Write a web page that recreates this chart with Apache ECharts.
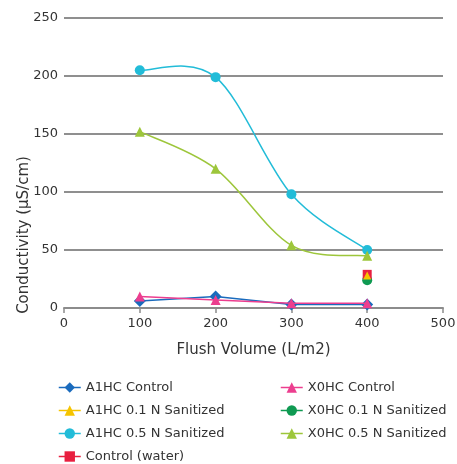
<!DOCTYPE html>
<html>
<head>
<meta charset="utf-8">
<script src="https://cdn.jsdelivr.net/npm/echarts@6/dist/echarts.min.js"></script>
<style>
  html, body { margin: 0; padding: 0; background: #fff; }
  #chart { width: 457px; height: 464px; }
</style>
</head>
<body>
<div id="chart"></div>
<script>
// Flush volume (L/m2) vs conductivity (µS/cm)
const flushVolume = [100, 200, 300, 400];

const a1hcControl   = [6, 10, 3, 3];
const x0hcControl   = [10, 7, 4, 4];
const a1hc01        = [null, null, null, 28];
const x0hc01        = [null, null, null, 24];
const a1hc05        = [205, 199, 98, 50];
const x0hc05        = [152, 120, 54, 45];
const controlWater  = [null, null, null, 29];

const yTicks = [0, 50, 100, 150, 200, 250];
const xTicks = [0, 100, 200, 300, 400, 500];

const pairs = vals => flushVolume.map((x, i) => [x, vals[i]]).filter(p => p[1] !== null);

const font = 'DejaVu Sans, Verdana, sans-serif';

const colors = {
  a1hcControl: '#1a6bbd',
  x0hcControl: '#ec3e8f',
  a1hc01: '#f5c400',
  x0hc01: '#0f9a52',
  a1hc05: '#22bcd8',
  x0hc05: '#9dc63b',
  water: '#e81f3f'
};

function lineSeries(name, vals, color, symbol, size, opts) {
  return Object.assign({
    name: name,
    type: 'line',
    data: pairs(vals),
    symbol: symbol,
    symbolSize: size,
    showSymbol: true,
    itemStyle: { color: color },
    lineStyle: { color: color, width: 1.5 },
    emphasis: { disabled: true },
    animation: false
  }, opts || {});
}

// Smoothed connector (Catmull-Rom through the data points, in pixel space)
function curveSeries(vals, color) {
  const pts = pairs(vals);
  return {
    type: 'custom',
    data: pts,
    z: 2,
    silent: true,
    animation: false,
    renderItem: function (params, api) {
      if (params.dataIndex !== 0) return null;
      const p = pts.map(d => api.coord(d));
      const at = i => p[Math.max(0, Math.min(p.length - 1, i))];
      let d = 'M' + p[0][0] + ' ' + p[0][1];
      for (let i = 0; i < p.length - 1; i++) {
        const p0 = at(i - 1), p1 = at(i), p2 = at(i + 1), p3 = at(i + 2);
        const c1x = p1[0] + (p2[0] - p0[0]) / 6, c1y = p1[1] + (p2[1] - p0[1]) / 6;
        const c2x = p2[0] - (p3[0] - p1[0]) / 6, c2y = p2[1] - (p3[1] - p1[1]) / 6;
        d += ' C' + c1x + ' ' + c1y + ' ' + c2x + ' ' + c2y + ' ' + p2[0] + ' ' + p2[1];
      }
      return {
        type: 'path',
        shape: { pathData: d },
        style: { fill: 'none', stroke: color, lineWidth: 1.5 }
      };
    }
  };
}

const hiddenLine = { color: 'transparent', width: 0, opacity: 0 };

const series = [
  lineSeries('A1HC Control', a1hcControl, colors.a1hcControl, 'diamond', 12, { z: 3 }),
  lineSeries('X0HC Control', x0hcControl, colors.x0hcControl, 'triangle', 10, { z: 4 }),
  lineSeries('A1HC 0.1 N Sanitized', a1hc01, colors.a1hc01, 'triangle', 8, { z: 6 }),
  lineSeries('X0HC 0.1 N Sanitized', x0hc01, colors.x0hc01, 'circle', 10, { z: 4 }),
  lineSeries('A1HC 0.5 N Sanitized', a1hc05, colors.a1hc05, 'circle', 10, { z: 3, lineStyle: hiddenLine }),
  lineSeries('X0HC 0.5 N Sanitized', x0hc05, colors.x0hc05, 'triangle', 10, { z: 3, lineStyle: hiddenLine }),
  lineSeries('Control (water)', controlWater, colors.water, 'rect', 9, { z: 5 }),
  curveSeries(a1hc05, colors.a1hc05),
  curveSeries(x0hc05, colors.x0hc05)
];

const legendBase = {
  orient: 'vertical',
  top: 381,
  height: 110,
  padding: 0,
  itemGap: 10,
  itemWidth: 22,
  itemHeight: 13,
  textStyle: { fontFamily: font, fontSize: 13, color: '#333' },
  selectedMode: false
};

const legendItem = (name, color) => ({ name: name, lineStyle: { color: color, width: 1.5, opacity: 1 } });

const option = {
  backgroundColor: '#fff',
  animation: false,
  grid: { left: 64, right: 14, top: 18, bottom: 156, outerBoundsMode: 'none', containLabel: false },
  xAxis: {
    type: 'value',
    min: xTicks[0],
    max: xTicks[xTicks.length - 1],
    interval: 100,
    name: 'Flush Volume (L/m2)',
    nameLocation: 'middle',
    nameGap: 35,
    nameMoveOverlap: false,
    nameTextStyle: { fontFamily: font, fontSize: 15, color: '#333' },
    axisLine: { show: true, onZero: false, lineStyle: { color: '#8c8c8c', width: 2 } },
    axisTick: { show: true, length: 5, lineStyle: { color: '#8c8c8c', width: 1.5 } },
    axisLabel: { fontFamily: font, fontSize: 13, color: '#333', margin: 9 },
    splitLine: { show: false }
  },
  yAxis: {
    type: 'value',
    min: yTicks[0],
    max: yTicks[yTicks.length - 1],
    interval: 50,
    name: 'Conductivity (µS/cm)',
    nameLocation: 'middle',
    nameGap: 32,
    nameMoveOverlap: false,
    nameTextStyle: { fontFamily: font, fontSize: 15, color: '#333', padding: [0, 144, 0, 0] },
    axisLine: { show: false },
    axisTick: { show: false },
    axisLabel: { fontFamily: font, fontSize: 13, color: '#333', margin: 6 },
    splitLine: { show: true, lineStyle: { color: '#6a6a6a', width: 1.5 } }
  },
  legend: [
    Object.assign({}, legendBase, {
      left: 58,
      data: [
        legendItem('A1HC Control', colors.a1hcControl),
        legendItem('A1HC 0.1 N Sanitized', colors.a1hc01),
        legendItem('A1HC 0.5 N Sanitized', colors.a1hc05),
        legendItem('Control (water)', colors.water)
      ]
    }),
    Object.assign({}, legendBase, {
      left: 280,
      data: [
        legendItem('X0HC Control', colors.x0hcControl),
        legendItem('X0HC 0.1 N Sanitized', colors.x0hc01),
        legendItem('X0HC 0.5 N Sanitized', colors.x0hc05)
      ]
    })
  ],
  series: series
};

echarts.init(document.getElementById('chart'), null, { renderer: 'canvas' }).setOption(option);
</script>
</body>
</html>
